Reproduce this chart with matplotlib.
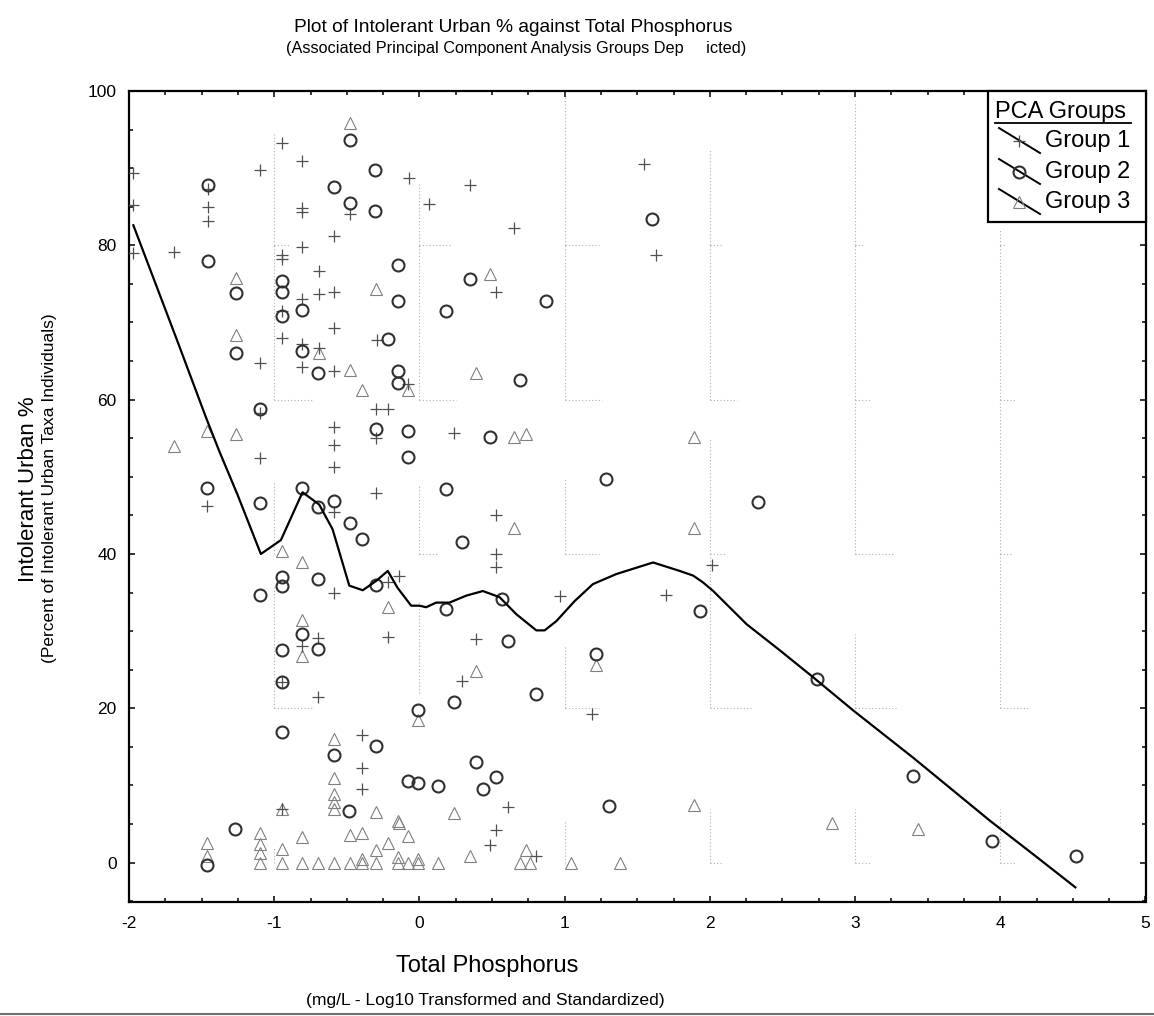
import matplotlib
matplotlib.use("Agg")
import matplotlib.pyplot as plt
from matplotlib.lines import Line2D
from matplotlib.patches import Rectangle
from matplotlib.ticker import MultipleLocator

plt.rcParams['font.family'] = ['Liberation Sans', 'DejaVu Sans']

# ---------------- data ----------------
group1_x = [-1.97, -1.97, -1.97, -1.69, -1.10, -1.457, -1.457, -1.457,
            -0.947, -0.81, -0.074, -0.478, -0.81, -0.81, -0.586, -0.81,
            -0.947, -0.947, -0.694, -0.694, -0.586, -0.947, -0.81, -0.586,
            -0.294, -0.947, -0.81, -0.694, -1.10, 0.064, 0.345, 0.65,
            1.547, 1.628, 0.529, -0.81, -0.586, -0.078, -1.10, -0.299,
            -0.218, -0.299, -0.586, -0.586, -0.586, -1.10, -1.46, -0.586,
            -0.299, -0.586, -0.218, -0.143, 0.237, 0.529, 0.529, 0.529,
            0.97, 1.70, 0.391, 0.294, 1.19, 0.609, 0.529, 0.487, 0.805,
            -0.81, -0.697, -0.697, -0.947, -0.218, -0.395, -0.395, -0.395,
            -0.947, 2.016]
group1_y = [89.4, 85.2, 79.0, 79.2, 89.7, 87.3, 85.0, 83.2,
            93.3, 90.9, 88.7, 84.0, 84.8, 84.3, 81.2, 79.8,
            78.8, 78.2, 76.7, 73.7, 74.0, 71.5, 73.0, 69.3,
            67.7, 68.0, 67.2, 66.7, 64.8, 85.4, 87.8, 82.2,
            90.5, 78.8, 73.9, 64.2, 63.7, 62.0, 58.3, 58.8,
            58.8, 55.0, 56.4, 54.1, 51.3, 52.4, 46.2, 45.4,
            47.9, 34.9, 36.4, 37.2, 55.7, 45.1, 40.0, 38.3,
            34.5, 34.7, 29.0, 23.6, 19.2, 7.2, 4.2, 2.3, 0.8,
            28.1, 29.1, 21.5, 23.4, 29.3, 16.6, 12.3, 9.5,
            6.9, 38.6]

group2_x = [-1.457, -1.457, -1.264, -1.264, -0.478, -0.303, -0.586, -0.478,
            -0.303, -0.147, -0.147, -0.947, -0.947, -0.947, -0.81, -0.218,
            -0.81, 1.60, 0.345, 0.184, 0.869, -0.697, -0.147, -0.147,
            -1.10, -0.299, -0.078, -0.078, -1.46, -1.10, -0.81, -0.697,
            -0.586, -0.478, -0.395, -0.947, -0.947, -1.10, -0.697, -0.299,
            0.69, 0.483, 1.283, 0.184, 0.294, 0.184, 0.57, 1.93,
            0.609, 1.214, 0.805, 0.237, -0.012, 0.391, -0.08, -0.012,
            0.126, 0.524, 0.44, 1.306, -0.81, -0.947, -0.697, -0.947,
            -0.947, -0.586, -0.299, -0.483, -1.269, -1.46,
            2.329, 2.74, 3.40, 3.943, 4.522]
group2_y = [87.8, 78.0, 73.8, 66.1, 93.6, 89.7, 87.6, 85.5,
            84.5, 77.5, 72.8, 75.4, 73.9, 70.8, 71.6, 67.9,
            66.3, 83.4, 75.6, 71.5, 72.8, 63.4, 63.7, 62.2,
            58.8, 56.2, 56.0, 52.6, 48.5, 46.6, 48.5, 46.1,
            46.9, 44.0, 42.0, 37.0, 35.8, 34.7, 36.8, 36.0,
            62.6, 55.1, 49.7, 48.4, 41.5, 32.9, 34.2, 32.6,
            28.7, 27.0, 21.8, 20.8, 19.8, 13.0, 10.6, 10.3,
            9.9, 11.1, 9.6, 7.3, 29.6, 27.5, 27.7, 23.4,
            16.9, 14.0, 15.1, 6.7, 4.4, -0.3,
            46.7, 23.8, 11.2, 2.85, 0.8]

group3_x = [-0.478, -1.264, -1.264, -0.299, -0.694, 0.483, -0.478, -0.078,
            -0.395, -1.46, -1.264, -1.69, -0.947, -0.81, -0.218, 0.391,
            0.65, 0.736, 1.89, 0.65, 1.89, 1.214, 0.391, -0.012,
            1.89, 0.237, -0.08, -0.138, 0.345, 0.736, -0.012,
            -1.10, -0.947, -0.81, -0.697, -0.586, -0.478, -0.395, -0.299,
            -0.147, -0.078, -0.012, 0.126, 0.69, 0.763, 1.046, 1.379,
            -1.46, -1.46, -1.10, -1.10, -1.10, -0.947, -0.81, -0.478,
            -0.395, -0.218, -0.299, -0.147, -0.395, -0.147, -0.299, -0.947,
            -0.586, -0.586, -0.586, -0.586, -0.586, -0.81, -0.81,
            2.844, 3.434]
group3_y = [95.9, 75.8, 68.4, 74.3, 66.1, 76.3, 63.9, 61.2,
            61.2, 55.9, 55.6, 54.0, 40.4, 38.9, 33.1, 63.5,
            55.1, 55.6, 55.2, 43.4, 43.4, 25.6, 24.9, 18.5,
            7.5, 6.4, 3.4, 5.2, 0.8, 1.6, 0.5,
            0, 0, 0, 0, 0, 0, 0, 0,
            0, 0, 0, 0, 0, 0, 0, 0,
            2.5, 0.8, 3.8, 2.4, 1.3, 1.8, 3.3, 3.6,
            3.8, 2.6, 1.6, 0.7, 0.5, 5.4, 6.6, 6.9,
            7.0, 7.8, 8.9, 11.0, 16.0, 31.5, 26.8,
            5.1, 4.3]

smooth_x = [-1.97, -1.667, -1.47, -1.38, -1.253, -1.092, -0.954, -0.805,
            -0.69, -0.598, -0.483, -0.39, -0.299, -0.218, -0.15, -0.057,
            0.0, 0.046, 0.115, 0.207, 0.322, 0.437, 0.552, 0.667, 0.805,
            0.862, 0.943, 1.069, 1.195, 1.356, 1.609, 1.793, 1.885, 1.954,
            2.023, 2.253, 2.483, 2.713, 2.989, 3.40, 3.931, 4.253, 4.517]
smooth_y = [82.6, 67.6, 57.7, 53.4, 47.7, 40.0, 41.8, 48.0,
            46.4, 43.2, 35.9, 35.3, 36.5, 37.8, 35.6, 33.3,
            33.3, 33.1, 33.7, 33.7, 34.6, 35.2, 34.4, 32.2, 30.1,
            30.1, 31.3, 33.9, 36.1, 37.4, 38.9, 37.8, 37.2, 36.3,
            35.2, 30.9, 27.5, 24.0, 19.7, 13.6, 5.4, 0.7, -3.2]

x_ticks = [-2, -1, 0, 1, 2, 3, 4, 5]
y_ticks = [0, 20, 40, 60, 80, 100]
legend_labels = ["Group 1", "Group 2", "Group 3"]

# faint dotted grid remnants: (x, y_low, y_high, stub length)
grid_fragments = [
    (-1, 80, 94.4, 0.10), (-1, 60, 80, 0.26), (-1, 40, 49.5, 0.0), (-1, 20, 36, 0.26), (-1, 0, 2, 0.0),
    (0, 80, 88, 0.22), (0, 60, 80, 0.25), (0, 40, 49, 0.12), (0, 22, 34, 0.0),
    (1, 80, 99.5, 0.24), (1, 60, 80, 0.26), (1, 40, 49.8, 0.24), (1, 20, 28, 0.24), (1, 0, 5.4, 0.0),
    (2, 80, 92.3, 0.09), (2, 60, 80, 0.19), (2, 40, 55, 0.11), (2, 20, 40, 0.28), (2, 0, 7, 0.09),
    (3, 80, 98.7, 0.07), (3, 60, 80, 0.10), (3, 40, 60, 0.27), (3, 20, 29.6, 0.28), (3, 0, 7, 0.10),
    (4, 80, 82, 0.04), (4, 60, 80, 0.10), (4, 40, 60, 0.08), (4, 20, 40, 0.20), (4, 0, 7, 0.10),
]

# ---------------- figure ----------------
W, H = 1154, 1016
fig = plt.figure(figsize=(W / 100, H / 100), dpi=100)
L, R, T, B = 129, 1145.5, 91, 902
ax = fig.add_axes([L / W, 1 - B / H, (R - L) / W, (B - T) / H])
ax.set_xlim(-2, 5)
ax.set_ylim(-5.1, 100)

for gx, y0, y1, stub in grid_fragments:
    ax.plot([gx, gx], [y0, y1], color='#b0b0b0', lw=0.8, ls=(0, (1, 2)), zorder=1)
    if stub > 0:
        ax.plot([gx, gx + stub], [y0, y0], color='#b0b0b0', lw=0.8, ls=(0, (1, 2)), zorder=1)

st1 = dict(marker='+', ls='none', ms=9, mew=0.9, color='#505050')
st2 = dict(marker='o', ls='none', ms=8.6, mew=1.5, mfc='none', mec='#303030')
st3 = dict(marker='^', ls='none', ms=8.6, mew=0.8, mfc='none', mec='#808080')

ax.plot(group3_x, group3_y, zorder=3, **st3)
ax.plot(group1_x, group1_y, zorder=3, **st1)
ax.plot(group2_x, group2_y, zorder=3, **st2)
ax.plot(smooth_x, smooth_y, color='black', lw=1.6, zorder=4)

ax.set_xticks(x_ticks)
ax.set_yticks(y_ticks)
ax.set_xticklabels([str(v) for v in x_ticks])
ax.set_yticklabels([str(v) for v in y_ticks])
ax.xaxis.set_minor_locator(MultipleLocator(0.25))
ax.yaxis.set_minor_locator(MultipleLocator(5))
ax.tick_params(which='both', direction='in', top=True, right=True, width=1.1, color='black')
ax.tick_params(which='major', length=4)
ax.tick_params(which='minor', length=3)
ax.tick_params(axis='x', which='major', labelsize=12.5, pad=10)
ax.tick_params(axis='y', which='major', labelsize=12.5, pad=9)
for sp in ax.spines.values():
    sp.set_linewidth(1.6)

# titles and labels
def fx(px):
    return px / W

def fy(py):
    return 1 - py / H

fig.text(fx(513), fy(28), "Plot of Intolerant Urban % against Total Phosphorus",
         ha='center', va='center', fontsize=13.8)
fig.text(fx(516), fy(48), "(Associated Principal Component Analysis Groups Dep     icted)",
         ha='center', va='center', fontsize=11.7)
fig.text(fx(487), fy(966), "Total Phosphorus", ha='center', va='center', fontsize=17)
fig.text(fx(485), fy(1000), "(mg/L - Log10 Transformed and Standardized)",
         ha='center', va='center', fontsize=12.6)
fig.text(fx(29), fy(489), "Intolerant Urban %", ha='center', va='center',
         rotation=90, fontsize=16)
fig.text(fx(50), fy(488), "(Percent of Intolerant Urban Taxa Individuals)",
         ha='center', va='center', rotation=90, fontsize=12.5)

# legend drawn by hand
fig.add_artist(Rectangle((fx(988), fy(222)), fx(1145.5) - fx(988), fy(91) - fy(222),
                         transform=fig.transFigure, facecolor='white',
                         edgecolor='black', lw=1.6, zorder=10))
fig.text(fx(995), fy(118), "PCA Groups", ha='left', va='baseline', fontsize=17, zorder=11)
fig.add_artist(Line2D([fx(995), fx(1131)], [fy(122.5), fy(122.5)],
                      transform=fig.transFigure, color='black', lw=1.3, zorder=11))
entry_y = [141, 172, 202]
styles = [st1, st2, st3]
for lab, cy, st in zip(legend_labels, entry_y, styles):
    fig.add_artist(Line2D([fx(999), fx(1040)], [fy(cy - 13), fy(cy + 12)],
                          transform=fig.transFigure, color='black', lw=1.4, zorder=11))
    fig.add_artist(Line2D([fx(1019)], [fy(cy)], transform=fig.transFigure, zorder=12, **st))
    fig.text(fx(1045), fy(cy), lab, ha='left', va='center', fontsize=17, zorder=11)

# bottom separator line
fig.add_artist(Line2D([0, 1], [fy(1014), fy(1014)], transform=fig.transFigure,
                      color='#707070', lw=1.5))

fig.savefig("out.png", dpi=100)
